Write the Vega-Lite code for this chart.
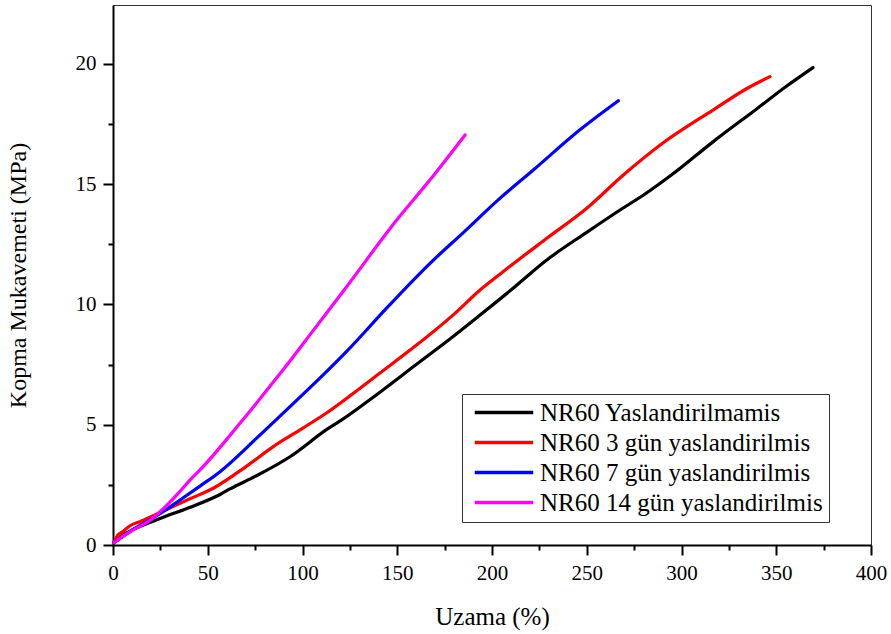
{
  "$schema": "https://vega.github.io/schema/vega-lite/v6.json",
  "width": 758,
  "height": 540,
  "autosize": "none",
  "padding": {"left": 113, "top": 5, "right": 20, "bottom": 89},
  "background": "white",
  "config": {
    "font": "Liberation Serif",
    "view": {"stroke": "#333333", "strokeWidth": 1}
  },
  "data": {
    "values": [
      {"s": "NR60 Yaslandirilmamis", "x": 0.5, "y": 0.1},
      {"s": "NR60 Yaslandirilmamis", "x": 5, "y": 0.4},
      {"s": "NR60 Yaslandirilmamis", "x": 10, "y": 0.62},
      {"s": "NR60 Yaslandirilmamis", "x": 24.8, "y": 1.1},
      {"s": "NR60 Yaslandirilmamis", "x": 40, "y": 1.55},
      {"s": "NR60 Yaslandirilmamis", "x": 56.5, "y": 2.1},
      {"s": "NR60 Yaslandirilmamis", "x": 61.7, "y": 2.33},
      {"s": "NR60 Yaslandirilmamis", "x": 75, "y": 2.85},
      {"s": "NR60 Yaslandirilmamis", "x": 93.4, "y": 3.67},
      {"s": "NR60 Yaslandirilmamis", "x": 113.6, "y": 4.85},
      {"s": "NR60 Yaslandirilmamis", "x": 120.7, "y": 5.2},
      {"s": "NR60 Yaslandirilmamis", "x": 140, "y": 6.3},
      {"s": "NR60 Yaslandirilmamis", "x": 160, "y": 7.5},
      {"s": "NR60 Yaslandirilmamis", "x": 180, "y": 8.7},
      {"s": "NR60 Yaslandirilmamis", "x": 193.7, "y": 9.56},
      {"s": "NR60 Yaslandirilmamis", "x": 210, "y": 10.6},
      {"s": "NR60 Yaslandirilmamis", "x": 228.9, "y": 11.85},
      {"s": "NR60 Yaslandirilmamis", "x": 250, "y": 13.0},
      {"s": "NR60 Yaslandirilmamis", "x": 269, "y": 14.0},
      {"s": "NR60 Yaslandirilmamis", "x": 280, "y": 14.55},
      {"s": "NR60 Yaslandirilmamis", "x": 295, "y": 15.4},
      {"s": "NR60 Yaslandirilmamis", "x": 316.6, "y": 16.76},
      {"s": "NR60 Yaslandirilmamis", "x": 340, "y": 18.15},
      {"s": "NR60 Yaslandirilmamis", "x": 355, "y": 19.05},
      {"s": "NR60 Yaslandirilmamis", "x": 369.4, "y": 19.85},

      {"s": "NR60 3 gün yaslandirilmis", "x": 0.5, "y": 0.1},
      {"s": "NR60 3 gün yaslandirilmis", "x": 2, "y": 0.35},
      {"s": "NR60 3 gün yaslandirilmis", "x": 5, "y": 0.55},
      {"s": "NR60 3 gün yaslandirilmis", "x": 9, "y": 0.8},
      {"s": "NR60 3 gün yaslandirilmis", "x": 15, "y": 1.0},
      {"s": "NR60 3 gün yaslandirilmis", "x": 24.8, "y": 1.35},
      {"s": "NR60 3 gün yaslandirilmis", "x": 40, "y": 1.9},
      {"s": "NR60 3 gün yaslandirilmis", "x": 52.9, "y": 2.36},
      {"s": "NR60 3 gün yaslandirilmis", "x": 70, "y": 3.25},
      {"s": "NR60 3 gün yaslandirilmis", "x": 84.6, "y": 4.09},
      {"s": "NR60 3 gün yaslandirilmis", "x": 100, "y": 4.85},
      {"s": "NR60 3 gün yaslandirilmis", "x": 113.6, "y": 5.54},
      {"s": "NR60 3 gün yaslandirilmis", "x": 125, "y": 6.2},
      {"s": "NR60 3 gün yaslandirilmis", "x": 140, "y": 7.1},
      {"s": "NR60 3 gün yaslandirilmis", "x": 160, "y": 8.3},
      {"s": "NR60 3 gün yaslandirilmis", "x": 180, "y": 9.6},
      {"s": "NR60 3 gün yaslandirilmis", "x": 193.7, "y": 10.6},
      {"s": "NR60 3 gün yaslandirilmis", "x": 204, "y": 11.25},
      {"s": "NR60 3 gün yaslandirilmis", "x": 228.9, "y": 12.75},
      {"s": "NR60 3 gün yaslandirilmis", "x": 250, "y": 14.0},
      {"s": "NR60 3 gün yaslandirilmis", "x": 269.3, "y": 15.38},
      {"s": "NR60 3 gün yaslandirilmis", "x": 290, "y": 16.7},
      {"s": "NR60 3 gün yaslandirilmis", "x": 316.8, "y": 18.09},
      {"s": "NR60 3 gün yaslandirilmis", "x": 335, "y": 19.0},
      {"s": "NR60 3 gün yaslandirilmis", "x": 346.7, "y": 19.47},

      {"s": "NR60 7 gün yaslandirilmis", "x": 0.5, "y": 0.1},
      {"s": "NR60 7 gün yaslandirilmis", "x": 5, "y": 0.35},
      {"s": "NR60 7 gün yaslandirilmis", "x": 10, "y": 0.62},
      {"s": "NR60 7 gün yaslandirilmis", "x": 24.8, "y": 1.3},
      {"s": "NR60 7 gün yaslandirilmis", "x": 35, "y": 1.85},
      {"s": "NR60 7 gün yaslandirilmis", "x": 45.9, "y": 2.45},
      {"s": "NR60 7 gün yaslandirilmis", "x": 56.5, "y": 3.05},
      {"s": "NR60 7 gün yaslandirilmis", "x": 75.8, "y": 4.44},
      {"s": "NR60 7 gün yaslandirilmis", "x": 93.4, "y": 5.75},
      {"s": "NR60 7 gün yaslandirilmis", "x": 113.6, "y": 7.28},
      {"s": "NR60 7 gün yaslandirilmis", "x": 123.3, "y": 8.05},
      {"s": "NR60 7 gün yaslandirilmis", "x": 145, "y": 9.9},
      {"s": "NR60 7 gün yaslandirilmis", "x": 167.3, "y": 11.71},
      {"s": "NR60 7 gün yaslandirilmis", "x": 185, "y": 13.0},
      {"s": "NR60 7 gün yaslandirilmis", "x": 204, "y": 14.4},
      {"s": "NR60 7 gün yaslandirilmis", "x": 221.8, "y": 15.59},
      {"s": "NR60 7 gün yaslandirilmis", "x": 246.4, "y": 17.26},
      {"s": "NR60 7 gün yaslandirilmis", "x": 266.7, "y": 18.47},

      {"s": "NR60 14 gün yaslandirilmis", "x": 0.5, "y": 0.1},
      {"s": "NR60 14 gün yaslandirilmis", "x": 5, "y": 0.35},
      {"s": "NR60 14 gün yaslandirilmis", "x": 10, "y": 0.6},
      {"s": "NR60 14 gün yaslandirilmis", "x": 20, "y": 1.05},
      {"s": "NR60 14 gün yaslandirilmis", "x": 24.8, "y": 1.38},
      {"s": "NR60 14 gün yaslandirilmis", "x": 35, "y": 2.2},
      {"s": "NR60 14 gün yaslandirilmis", "x": 40.6, "y": 2.7},
      {"s": "NR60 14 gün yaslandirilmis", "x": 45.9, "y": 3.12},
      {"s": "NR60 14 gün yaslandirilmis", "x": 67, "y": 5.06},
      {"s": "NR60 14 gün yaslandirilmis", "x": 86.4, "y": 6.95},
      {"s": "NR60 14 gün yaslandirilmis", "x": 93.4, "y": 7.65},
      {"s": "NR60 14 gün yaslandirilmis", "x": 105, "y": 8.85},
      {"s": "NR60 14 gün yaslandirilmis", "x": 123.3, "y": 10.74},
      {"s": "NR60 14 gün yaslandirilmis", "x": 149.7, "y": 13.51},
      {"s": "NR60 14 gün yaslandirilmis", "x": 167.3, "y": 15.18},
      {"s": "NR60 14 gün yaslandirilmis", "x": 185.8, "y": 17.05}
    ]
  },
  "mark": {"type": "line", "strokeWidth": 3.2, "strokeJoin": "round", "strokeCap": "round", "interpolate": "monotone"},
  "encoding": {
    "x": {
      "field": "x", "type": "quantitative",
      "scale": {"domain": [0, 400], "nice": false},
      "axis": {
        "title": "Uzama (%)", "titleFont": "Liberation Serif",
        "titleFontSize": 25, "titleFontWeight": "normal", "titleColor": "black", "titlePadding": 21,
        "values": [0, 25, 50, 75, 100, 125, 150, 175, 200, 225, 250, 275, 300, 325, 350, 375, 400],
        "labelExpr": "datum.value % 50 === 0 ? datum.label : ''",
        "labelFont": "Liberation Serif",
        "labelFontSize": 21, "labelColor": "black", "labelPadding": 7,
        "tickSize": {"condition": {"test": "datum.value % 50 !== 0", "value": 5}, "value": 10},
        "tickWidth": 2, "tickColor": "black",
        "domainWidth": 2, "domainColor": "black", "grid": false,
        "labelFlush": false, "labelOverlap": false
      }
    },
    "y": {
      "field": "y", "type": "quantitative",
      "scale": {"domain": [0, 22.45], "nice": false, "zero": true},
      "axis": {
        "title": "Kopma Mukavemeti (MPa)", "titleFont": "Liberation Serif",
        "titleFontSize": 24, "titleFontWeight": "normal", "titleColor": "black", "titlePadding": 45,
        "values": [0, 2.5, 5, 7.5, 10, 12.5, 15, 17.5, 20],
        "labelExpr": "datum.value % 5 === 0 ? datum.label : ''",
        "labelFont": "Liberation Serif",
        "labelFontSize": 21, "labelColor": "black", "labelPadding": 7,
        "tickSize": {"condition": {"test": "datum.value % 5 !== 0", "value": 5}, "value": 10},
        "tickWidth": 2, "tickColor": "black",
        "domainWidth": 2, "domainColor": "black", "grid": false,
        "labelFlush": false, "labelOverlap": false
      }
    },
    "color": {
      "field": "s", "type": "nominal",
      "scale": {
        "domain": ["NR60 Yaslandirilmamis", "NR60 3 gün yaslandirilmis", "NR60 7 gün yaslandirilmis", "NR60 14 gün yaslandirilmis"],
        "range": ["#000000", "#ff0000", "#0000ff", "#ff00ff"]
      },
      "legend": {
        "title": null,
        "orient": "none",
        "legendX": 349,
        "legendY": 389,
        "direction": "vertical",
        "strokeColor": "#333333",
        "fillColor": "white",
        "padding": 6,
        "symbolOffset": 4,
        "symbolType": "M-1,0H5",
        "symbolSize": 380,
        "symbolStrokeWidth": 3.5,
        "labelFont": "Liberation Serif",
        "labelFontSize": 25,
        "labelColor": "black",
        "labelOffset": 43,
        "labelLimit": 400,
        "rowPadding": 4
      }
    }
  }
}
